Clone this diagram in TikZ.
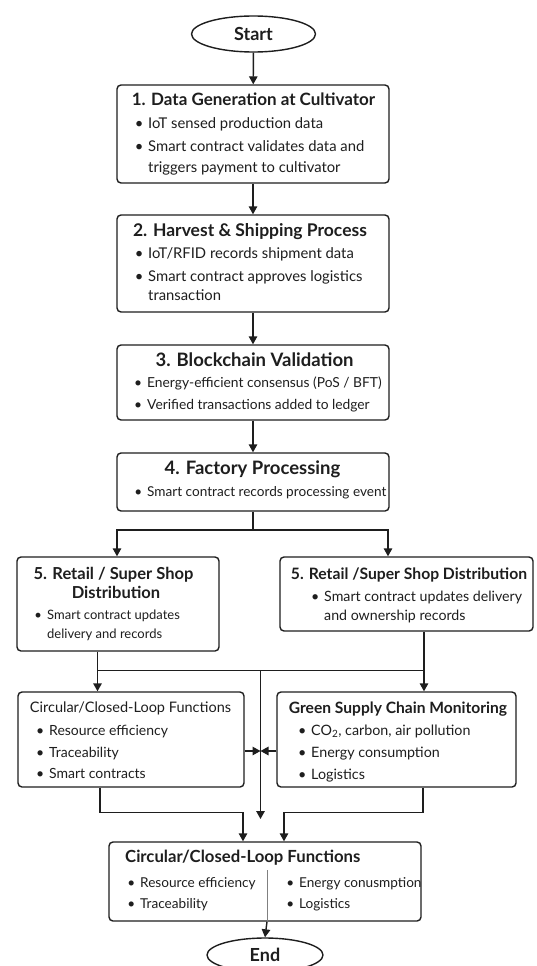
\documentclass[tikz,border=0pt]{standalone}
\usepackage{fontspec}
\setmainfont{Lato}
\usetikzlibrary{arrows.meta,shapes.geometric}
\definecolor{ink}{HTML}{1E1E1E}
\newcommand{\bul}{\makebox[0pt][c]{•}\hspace{9pt}}
\begin{document}
\begin{tikzpicture}[x=1pt,y=-1pt,
  box/.style={draw=ink,line width=1.4pt,rounded corners=4pt,inner sep=0pt},
  term/.style={draw=ink,line width=1.4pt,ellipse,inner sep=0pt,font=\bfseries\fontsize{18}{20}\selectfont,text=ink},
  ttl/.style={font=\bfseries\fontsize{#1}{#1}\selectfont,inner sep=0pt,anchor=base,yshift={-0.34*#1},text=ink},
  ttr/.style={font=\fontsize{#1}{#1}\selectfont,inner sep=0pt,anchor=base,yshift={-0.34*#1},text=ink},
  txt/.style={font=\fontsize{#1}{#1}\selectfont,inner sep=0pt,anchor=base west,yshift={-0.32*#1},text=ink},
  arr/.style={draw=ink,line width=1.4pt,-{Triangle[length=8pt,width=8.5pt]}},
  ln/.style={draw=ink,line width=1.4pt},
]
\useasboundingbox (0,0) rectangle (536,966);
\fill[white] (0,0) rectangle (536,966);

% Start
\node[term,minimum width=124pt,minimum height=36pt] (start) at (253.5,34) {Start};

% Box 1
\node[box,minimum width=272pt,minimum height=98pt] (b1) at (253,134) {};
\node[ttl=17] (b1t) at (253.5,100) {1. Data Generation at Cultivator};
\node[txt=14.8] (b1a) at (139,124) {\bul IoT sensed production data};
\node[txt=14.8] (b1b) at (139,147) {\bul Smart contract validates data and};
\node[txt=14.8] (b1c) at (148,168) {triggers payment to cultivator};

% Box 2
\node[box,minimum width=272pt,minimum height=97pt] (b2) at (253,263.5) {};
\node[ttl=17.5] (b2t) at (250,231) {2. Harvest \& Shipping Process};
\node[txt=14.8] (b2a) at (139,254) {\bul IoT/RFID records shipment data};
\node[txt=14.8] (b2b) at (139,276.5) {\bul Smart contract approves logistics};
\node[txt=14.8] (b2c) at (148,296) {transaction};

% Box 3
\node[box,minimum width=272pt,minimum height=75pt] (b3) at (253,382.5) {};
\node[ttl=18.5] (b3t) at (254.5,360) {3. Blockchain Validation};
\node[txt=13.8] (b3a) at (138,383) {\bul Energy-efficient consensus (PoS / BFT)};
\node[txt=13.8] (b3b) at (138,405) {\bul Verified transactions added to ledger};

% Box 4
\node[box,minimum width=272pt,minimum height=58pt] (b4) at (253,482) {};
\node[ttl=18.5] (b4t) at (252.5,468) {4. Factory Processing};
\node[txt=13.6] (b4a) at (138,492) {\bul Smart contract records processing event};

% Box 5 left
\node[box,minimum width=202pt,minimum height=94pt] (b5L) at (118,604) {};
\node[ttl=16.5] (b5Lt1) at (113.5,574) {5. Retail / Super Shop};
\node[ttl=16.5] (b5Lt2) at (116,593) {Distribution};
\node[txt=13] (b5La) at (38,615) {\bul Smart contract updates};
\node[txt=13] (b5Lb) at (47,634) {delivery and records};

% Box 5 right
\node[box,minimum width=253pt,minimum height=74pt] (b5R) at (406.5,594) {};
\node[ttl=15.7] (b5Rt) at (409,574) {5. Retail /Super Shop Distribution};
\node[txt=14.2] (b5Ra) at (315,597) {\bul Smart contract updates delivery};
\node[txt=14.2] (b5Rb) at (324,616) {and ownership records};

% Middle left
\node[box,minimum width=226pt,minimum height=95pt] (m1) at (131,739.5) {};
\node[ttr=14.5] (m1t) at (130.5,708) {Circular/Closed-Loop Functions};
\node[txt=14] (m1a) at (40,731) {\bul Resource efficiency};
\node[txt=14] (m1b) at (40,753) {\bul Traceability};
\node[txt=14] (m1c) at (40,774.5) {\bul Smart contracts};

% Middle right
\node[box,minimum width=239pt,minimum height=95pt] (m2) at (396.5,739.5) {};
\node[ttl=15.6] (m2t) at (398,708) {Green Supply Chain Monitoring};
\node[txt=14.3] (m2a) at (302,731) {\bul CO\textsubscript{2}, carbon, air pollution};
\node[txt=14.3] (m2b) at (302,753) {\bul Energy consumption};
\node[txt=14.3] (m2c) at (302,774.5) {\bul Logistics};

% Bottom box
\node[box,minimum width=312pt,minimum height=79pt] (bb) at (265,881.5) {};
\node[ttl=16.7,anchor=base west] (bbt) at (125,857) {Circular/Closed-Loop Functions};
\node[txt=13.6] (bba) at (131,883) {\bul Resource efficiency};
\node[txt=13.6] (bbb) at (131,904) {\bul Traceability};
\node[txt=13.6] (bbc) at (290,883) {\bul Energy conusmption};
\node[txt=13.6] (bbd) at (290,904) {\bul Logistics};
\coordinate (dv) at (267,870);
\draw[gray,line width=0.7pt] (dv) -- (dv |- bb.south);

% End
\node[term,minimum width=116pt,minimum height=34pt] (end) at (265,955) {End};

% Connectors main chain
\draw[arr] (start) -- (b1);
\draw[arr] (b1) -- (b2);
\draw[arr] (b2) -- (b3);
\draw[arr] (b3) -- (b4);

% Split
\coordinate (s) at (253,530);
\coordinate (sL) at (117,530);
\coordinate (sR) at (388,530);
\draw[ln] (b4.south) -- (s);
\draw[arr] (s) -- (sL) -- (sL |- b5L.north);
\draw[arr] (s) -- (sR) -- (sR |- b5R.north);

% Merge
\coordinate (jL) at (97.5,670.5);
\coordinate (jR) at (424,670.5);
\coordinate (jC) at (260.5,670.5);
\coordinate (cEnd) at (260.5,819);
\draw[ln] (b5L.south -| jL) -- (jL) -- (jR);
\draw[ln] (b5R.south -| jR) -- (jR);
\draw[arr] (jL) -- (jL |- m1.north);
\draw[arr] (jR) -- (jR |- m2.north);
\draw[arr] (jC) -- (cEnd);

% Side arrows
\coordinate (hy) at (0,751);
\draw[arr] (m1.east |- hy) -- (jC |- hy);
\draw[arr] (m2.west |- hy) -- (jC |- hy);

% Bottom merges
\coordinate (kL) at (100,812.5);
\coordinate (tL) at (243,812.5);
\coordinate (kR) at (423,812.5);
\coordinate (tR) at (284,812.5);
\draw[arr] (m1.south -| kL) -- (kL) -- (tL) -- (tL |- bb.north);
\draw[arr] (m2.south -| kR) -- (kR) -- (tR) -- (tR |- bb.north);

% To End
\draw[arr] (bb.south -| dv) -- (end.north);
\end{tikzpicture}
\end{document}
